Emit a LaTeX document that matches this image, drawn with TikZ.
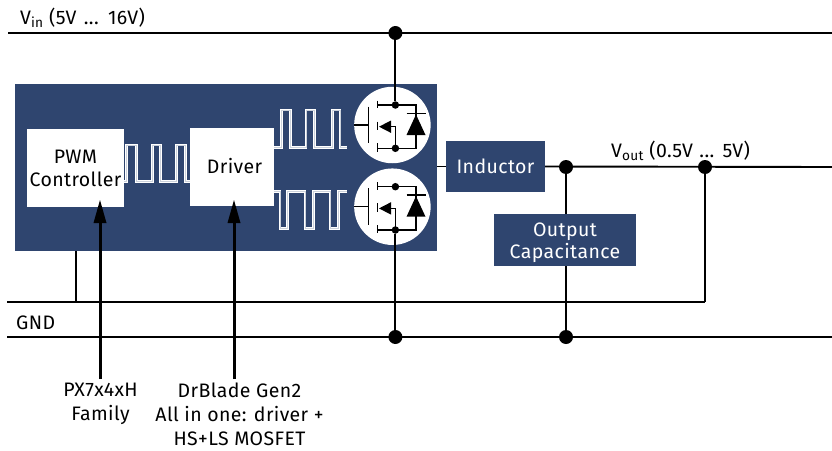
\documentclass[tikz,border=0pt]{standalone}
\usepackage{fontspec}
\setmainfont{Fira Sans}[LetterSpace=2]
\usetikzlibrary{arrows.meta}
\definecolor{ifxblue}{HTML}{2F456F}
\tikzset{
  x=1pt,y=-1pt,
  wire/.style={draw=black,line width=1.9pt},
  fine/.style={draw=black,line width=1.5pt},
  sigarrow/.style={draw=black,line width=3pt,-{Triangle[length=23pt,width=13pt,line width=0pt,fill=black]}},
  dotnode/.style={circle,fill=black,inner sep=0pt,minimum size=14pt},
  smalldot/.style={circle,fill=black,inner sep=0pt,minimum size=7.5pt},
  lbl/.style={font=\fontsize{19.5}{23.5}\selectfont,text=black,inner sep=0pt,align=center},
  whitebox/.style={fill=white,inner sep=0pt,lbl},
  bluebox/.style={fill=ifxblue,inner sep=0pt,font=\fontsize{19.5}{23.5}\selectfont,text=white,align=center},
  pulse/.style={draw=white,line width=1pt,double=ifxblue!25!white,double distance=0.6pt,miter limit=10},
  fetdisc/.style={circle,fill=white,inner sep=0pt,minimum size=76.5pt},
}
\newcommand{\fet}[2]{% #1 name, #2 centre y
  \node[fetdisc] (#1) at (392.4,#2) {};
  \begin{scope}[shift={(0,#2)}]
    \coordinate (#1d) at (395.4,-20);
    \coordinate (#1s) at (395.4,23.3);
    \draw[fine] (354,0) -- (368.3,0);
    \draw[fine] (368.3,-18.3) -- (368.3,18.3);
    \draw[fine] (377.7,-24.3) -- (377.7,-16.7);
    \draw[fine] (377.7,-3.3) -- (377.7,5);
    \draw[fine] (377.7,18.3) -- (377.7,26.7);
    \draw[fine] (377.7,-20) -- (416,-20) -- (416,23.3) -- (377.7,23.3);
    \draw[fine] (388,1.7) -- (395.4,1.7) -- (395.4,23.3);
    \fill[black] (379,1.7) -- (391,-4.5) -- (391,7.9) -- cycle;
    \fill[black] (416,-10.5) -- (425.5,10) -- (406.5,10) -- cycle;
    \draw[fine] (406.5,-11.7) -- (426,-11.7);
    \node[smalldot] (#1dd) at (#1d) {};
    \node[smalldot] (#1sd) at (#1s) {};
  \end{scope}
}
\begin{document}
\begin{tikzpicture}
\useasboundingbox (0,0) rectangle (832,450);
\node[bluebox,minimum width=422pt,minimum height=167pt] (ic) at (226,167.5) {};
\node[whitebox,minimum width=97pt,minimum height=78.5pt] (pwm) at (75.5,168) {PWM\\[-0.5pt]Controller};
\node[whitebox,minimum width=84pt,minimum height=78.5pt] (drv) at (232,167) {\hspace*{5pt}Driver\rule[-3pt]{0pt}{3pt}};
\node[bluebox,minimum width=99pt,minimum height=51pt] (ind) at (495.5,166.5) {Inductor};
\node[bluebox,minimum width=142pt,minimum height=52pt] (cap) at (565,240) {\rule{0pt}{20pt}Output\\[-1.5pt]Capacitance};

% rails
\coordinate (vinL) at (8,33); \coordinate (vinR) at (832,33);
\coordinate (gndL) at (7,337); \coordinate (gndR) at (832,337);
\coordinate (retL) at (7,302); \coordinate (retC) at (705,302);
\coordinate (outR) at (832,167);
\coordinate (stub) at (76,302);
\draw[wire] (vinL) -- (vinR);
\draw[wire] (gndL) -- (gndR);
\draw[wire] (retL) -- (retC);
\node[dotnode] (dvin) at (395.4,33) {};
\node[dotnode] (dgnd) at (395.4,337) {};
\node[dotnode] (dcg) at (566,337) {};
\node[dotnode] (dco) at (566,167) {};
\node[dotnode] (dvo) at (705,167) {};
\draw[wire] (ic.south -| stub) -- (stub);
\draw[wire] (retC) -- (dvo);
\draw[wire] (ind.east) -- (outR);
\draw[wire] (ic.east |- ind.west) -- (ind.west);
\draw[wire] (dco) -- (cap.north -| dco);
\draw[wire] (cap.south -| dco) -- (dcg);

% MOSFETs
\fet{hs}{125}
\fet{ls}{206.7}
\draw[wire] (dvin) -- (hsdd);
\draw[wire] (lssd) -- (dgnd);

% pulses
\draw[pulse] (pwm.east |- 0,181.7) -- (126.7,181.7) -- (126.7,145) -- (136.7,145) -- (136.7,181.7) -- (152.3,181.7) -- (152.3,145) -- (160.7,145) -- (160.7,181.7) -- (176.7,181.7) -- (176.7,145) -- (185.7,145) -- (185.7,181.7) -- (drv.west |- 0,181.7);
\draw[pulse] (drv.east |- 0,147.3) -- (281.7,147.3) -- (281.7,110) -- (290.7,110) -- (290.7,147.3) -- (306,147.3) -- (306,110) -- (314.3,110) -- (314.3,147.3) -- (332.3,147.3) -- (332.3,110) -- (340,110) -- (340,147.3) -- (346.7,147.3);
\draw[pulse] (drv.east |- 0,191.7) -- (280,191.7) -- (280,228.3) -- (287.7,228.3) -- (287.7,191.7) -- (305,191.7) -- (305,228.3) -- (313.3,228.3) -- (313.3,191.7) -- (330,191.7) -- (330,228.3) -- (338.3,228.3) -- (338.3,191.7) -- (346.7,191.7);

% external labels and arrows
\node[lbl,anchor=north] (lpx) at (100.5,382.5) {PX7x4xH\\[0.5pt]Family};
\node[lbl,anchor=north] (ldb) at (239.5,382.5) {DrBlade Gen2\\[0.5pt]All in one: driver +\\[0.5pt]HS+LS MOSFET};
\coordinate (apx) at (100,379); \coordinate (adb) at (234,379);
\draw[sigarrow] (apx) -- (100,200);
\draw[sigarrow] (adb) -- (234,200);
\node[lbl,anchor=base west] (lvin) at (20,24) {V\textsubscript{in} (5V\hspace{2pt} ...\hspace{2pt} 16V)};
\node[lbl,anchor=base west] (lvout) at (611,157) {V\textsubscript{out} (0.5V\hspace{1pt} ...\hspace{1pt} 5V)};
\node[lbl,anchor=base west] (lgnd) at (16,329) {GND};
\end{tikzpicture}
\end{document}
